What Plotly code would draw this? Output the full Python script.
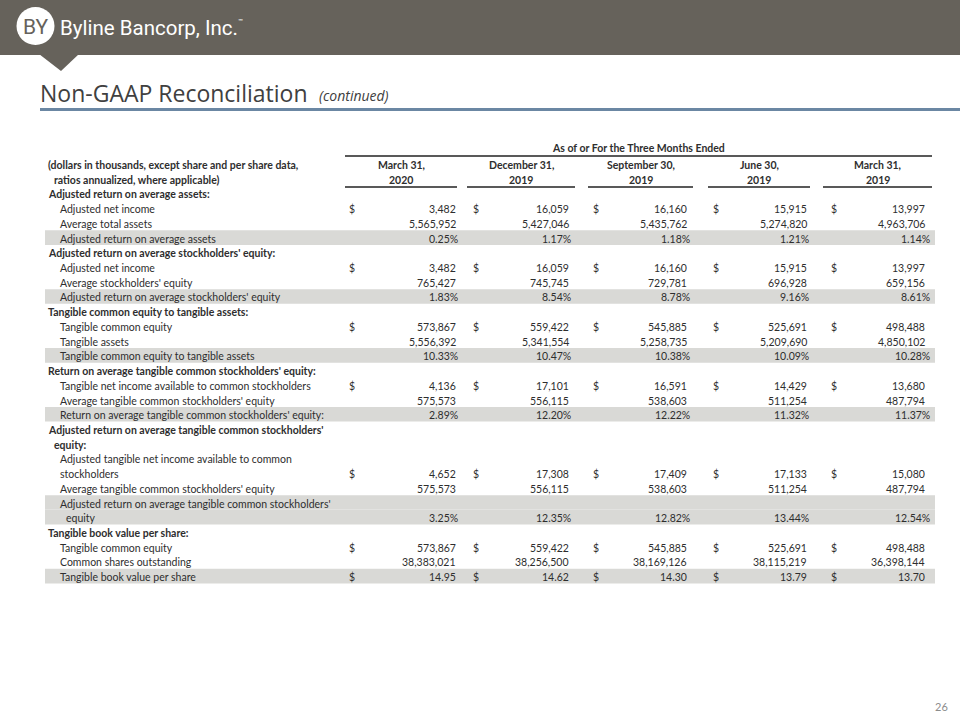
import plotly.graph_objects as go

# ---------------- data ----------------
period_line1 = ["March 31,", "December 31,", "September 30,", "June 30,", "March 31,"]
period_line2 = ["2020", "2019", "2019", "2019", "2019"]

adj_net_income = [3482, 16059, 16160, 15915, 13997]
avg_total_assets = [5565952, 5427046, 5435762, 5274820, 4963706]
adj_roaa = [0.25, 1.17, 1.18, 1.21, 1.14]
avg_stockholders_equity = [765427, 745745, 729781, 696928, 659156]
adj_roae = [1.83, 8.54, 8.78, 9.16, 8.61]
tangible_common_equity = [573867, 559422, 545885, 525691, 498488]
tangible_assets = [5556392, 5341554, 5258735, 5209690, 4850102]
tce_to_ta = [10.33, 10.47, 10.38, 10.09, 10.28]
tangible_net_income = [4136, 17101, 16591, 14429, 13680]
avg_tangible_cse = [575573, 556115, 538603, 511254, 487794]
rotce = [2.89, 12.20, 12.22, 11.32, 11.37]
adj_tangible_net_income = [4652, 17308, 17409, 17133, 15080]
adj_rotce = [3.25, 12.35, 12.82, 13.44, 12.54]
shares_outstanding = [38383021, 38256500, 38169126, 38115219, 36398144]
tbv_per_share = [14.95, 14.62, 14.30, 13.79, 13.70]

# rows: (label, style, values, format, dollar, shaded)
rows = [
    ("(dollars in thousands, except share and per share data,", "head", None, None, False, False),
    ("ratios annualized, where applicable)", "head2", None, None, False, False),
    ("Adjusted return on average assets:", "sec", None, None, False, False),
    ("Adjusted net income", "item", adj_net_income, "int", True, False),
    ("Average total assets", "item", avg_total_assets, "int", False, False),
    ("Adjusted return on average assets", "item", adj_roaa, "pct", False, True),
    ("Adjusted return on average stockholders' equity:", "sec", None, None, False, False),
    ("Adjusted net income", "item", adj_net_income, "int", True, False),
    ("Average stockholders' equity", "item", avg_stockholders_equity, "int", False, False),
    ("Adjusted return on average stockholders' equity", "item", adj_roae, "pct", False, True),
    ("Tangible common equity to tangible assets:", "sec", None, None, False, False),
    ("Tangible common equity", "item", tangible_common_equity, "int", True, False),
    ("Tangible assets", "item", tangible_assets, "int", False, False),
    ("Tangible common equity to tangible assets", "item", tce_to_ta, "pct", False, True),
    ("Return on average tangible common stockholders' equity:", "sec", None, None, False, False),
    ("Tangible net income available to common stockholders", "item", tangible_net_income, "int", True, False),
    ("Average tangible common stockholders' equity", "item", avg_tangible_cse, "int", False, False),
    ("Return on average tangible common stockholders' equity:", "item", rotce, "pct", False, True),
    ("Adjusted return on average tangible common stockholders'", "sec", None, None, False, False),
    ("equity:", "sec2", None, None, False, False),
    ("Adjusted tangible net income available to common", "item", None, None, False, False),
    ("stockholders", "item", adj_tangible_net_income, "int", True, False),
    ("Average tangible common stockholders' equity", "item", avg_tangible_cse, "int", False, False),
    ("Adjusted return on average tangible common stockholders'", "item", None, None, False, True),
    ("equity", "item2", adj_rotce, "pct", False, True),
    ("Tangible book value per share:", "sec", None, None, False, False),
    ("Tangible common equity", "item", tangible_common_equity, "int", True, False),
    ("Common shares outstanding", "item", shares_outstanding, "int", False, False),
    ("Tangible book value per share", "item", tbv_per_share, "dec", True, True),
]

# ---------------- layout constants ----------------
W, H = 960, 720
FONT = "Lato, 'Open Sans', sans-serif"
TXT = "#2E2E2E"
BAND = "#66625B"
SHADE = "#D9D9D6"
ROW0, DY = 165, 14.72
col_left = [345, 467, 588, 708, 823]
col_right = [457, 575, 693, 810, 932]
dollar_x = [348, 472, 592, 712, 830]
num_right = [457, 570, 688, 808, 926]
pct_right = [459, 572, 691, 810, 931]
indent = {"head": 47, "head2": 53, "sec": 47, "sec2": 53, "item": 59, "item2": 65}
TS = 10.5

fig = go.Figure()
shapes = []
ann = []

def A(x, y, text, size=TS, color=TXT, anchor="left", bold=False, family=FONT, **kw):
    if bold:
        text = "<b>" + text + "</b>"
    ann.append(dict(x=x, y=y, xref="x", yref="y", text=text, showarrow=False,
                    xanchor=anchor, yanchor="middle", borderpad=0,
                    font=dict(size=size, color=color, family=family), **kw))

# header band with pointer
shapes.append(dict(type="rect", x0=0, x1=W, y0=0, y1=55, xref="x", yref="y",
                   fillcolor=BAND, line=dict(width=0), layer="below"))
shapes.append(dict(type="path", path="M 39 54 L 79 54 L 61 71 Z", xref="x", yref="y",
                   fillcolor=BAND, line=dict(width=0), layer="below"))
shapes.append(dict(type="circle", x0=16.5, x1=54.5, y0=7, y1=45, xref="x", yref="y",
                   fillcolor="white", line=dict(width=0)))
A(35.5, 27, "BY", size=21, color=BAND, anchor="center",
  family="'Liberation Sans Narrow', 'Roboto', sans-serif")
A(59, 28, "Byline Bancorp, Inc.", size=20.5, color="white",
  family="'Liberation Sans Narrow', 'Roboto', sans-serif")
A(237, 20, "™", size=6, color="white")

# title
A(39, 93, "Non-GAAP Reconciliation", size=23, color="#404040", family="'Open Sans', sans-serif")
A(318, 95, "<i>(continued)</i>", size=14, color="#404040", family="'Open Sans', sans-serif")
shapes.append(dict(type="line", x0=40, x1=W, y0=109.5, y1=109.5, xref="x", yref="y",
                   line=dict(color="#6B87A3", width=3)))

# table header
A((col_left[0] + col_right[-1]) / 2, 148, "As of or For the Three Months Ended", anchor="center", bold=True)
shapes.append(dict(type="line", x0=col_left[0], x1=col_right[-1], y0=156, y1=156,
                   xref="x", yref="y", line=dict(color="#222", width=1.3)))
for c in range(5):
    cx = (col_left[c] + col_right[c]) / 2
    A(cx, ROW0, period_line1[c], anchor="center", bold=True)
    A(cx, ROW0 + 15, period_line2[c], anchor="center", bold=True)
    shapes.append(dict(type="line", x0=col_left[c], x1=col_right[c], y0=187, y1=187,
                       xref="x", yref="y", line=dict(color="#222", width=1.3)))

# body
for i, (label, style, vals, fmt, dollar, shaded) in enumerate(rows):
    y = ROW0 + DY * i
    if i == 1:
        y = ROW0 + 15
    if shaded:
        shapes.append(dict(type="rect", x0=45, x1=935, y0=y - 8.3, y1=y + 6.3, xref="x", yref="y",
                           fillcolor=SHADE, line=dict(width=0), layer="below"))
    A(indent[style], y, label, bold=style in ("head", "head2", "sec", "sec2"))
    if vals is None:
        continue
    for c, v in enumerate(vals):
        if fmt == "int":
            s, xr = f"{v:,}", num_right[c]
        elif fmt == "pct":
            s, xr = f"{v:.2f}%", pct_right[c]
        else:
            s, xr = f"{v:.2f}", num_right[c]
        A(xr, y, s, anchor="right")
        if dollar:
            A(dollar_x[c], y, "$")

# page number
A(941, 706, "26", size=11, color="#8C8C8C", anchor="center")

fig.update_layout(
    width=W, height=H, margin=dict(l=0, r=0, t=0, b=0),
    paper_bgcolor="white", plot_bgcolor="white",
    xaxis=dict(range=[0, W], visible=False, fixedrange=True),
    yaxis=dict(range=[H, 0], visible=False, fixedrange=True),
    shapes=shapes, annotations=ann, showlegend=False,
)
fig.write_html("out.html", config={"displayModeBar": False},
               post_script="document.body.style.margin='0';document.body.style.overflow='hidden';")
